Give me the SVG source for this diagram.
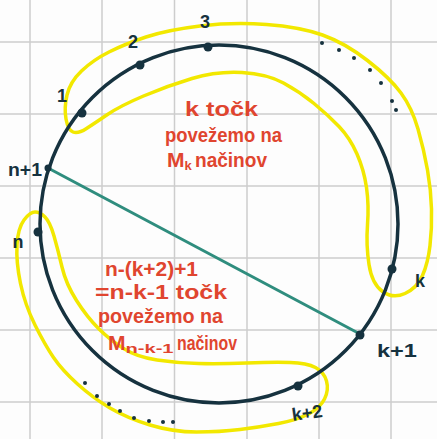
<svg xmlns="http://www.w3.org/2000/svg" width="437" height="439" viewBox="0 0 437 439">
<style>
.grid{stroke:#cdcdcd;stroke-width:1.5}
.circ{fill:none;stroke:#16323f;stroke-width:3.5}
.loop{fill:none;stroke:#f2e800;stroke-width:3.5;stroke-linejoin:round}
.chord{stroke:#2f8d7e;stroke-width:3;stroke-linecap:round}
.pt{fill:#16323f}
.lbl{font-family:"Liberation Sans",Arial,sans-serif;fill:#16323f;font-size:18px;font-weight:bold}
.red{font-family:"Liberation Sans",Arial,sans-serif;fill:#e0452f;font-size:21px;font-weight:bold}
.sub{font-size:13px}
</style>
<rect width="437" height="439" fill="#fdfdfd"/>
<g id="grid">
<line class="grid" x1="30" y1="0" x2="30" y2="439"/>
<line class="grid" x1="102" y1="0" x2="102" y2="439"/>
<line class="grid" x1="174.5" y1="0" x2="174.5" y2="439"/>
<line class="grid" x1="247" y1="0" x2="247" y2="439"/>
<line class="grid" x1="319" y1="0" x2="319" y2="439"/>
<line class="grid" x1="391" y1="0" x2="391" y2="439"/>
<line class="grid" x1="0" y1="42" x2="437" y2="42"/>
<line class="grid" x1="0" y1="114" x2="437" y2="114"/>
<line class="grid" x1="0" y1="186" x2="437" y2="186"/>
<line class="grid" x1="0" y1="258" x2="437" y2="258"/>
<line class="grid" x1="0" y1="330" x2="437" y2="330"/>
<line class="grid" x1="0" y1="402" x2="437" y2="402"/>
</g>
<g id="loops">
<path id="loop-top" class="loop" d="M66,119 Q64,108 67,95 Q70,82 81.5,71 Q93,60 109,52 Q125,44 146,37 Q167,30 200,26 Q233,22 266.5,24.5 Q300,27 322.5,35 Q345,43 367.5,60.5 Q390,78 401,93 Q412,108 418,129 Q424,150 427.5,170 Q431,190 431.5,209 Q432,228 430,245.5 Q428,263 422.5,275.5 Q417,288 405,293.5 Q393,299 382.5,291.5 Q372,284 369,264.5 Q366,245 367.5,225 Q369,205 366.5,187.5 Q364,170 357,154 Q350,138 339,126.5 Q328,115 314,103.5 Q300,92 283.5,83 Q267,74 242,72.5 Q217,71 192,78.5 Q167,86 143.5,96 Q120,106 107.5,114.5 Q95,123 86.5,128.5 Q78,134 73,132 Q68,130 66,119 Z"/>
<path id="loop-bottom" class="loop" d="M24,220 Q18,228 17,245 Q16,262 20.5,283.5 Q25,305 35,325 Q45,345 53.5,357.5 Q62,370 77.5,384 Q93,398 110,408 Q127,418 150,425 Q173,432 196.5,432 Q220,432 240,429.5 Q260,427 278.5,423.5 Q297,420 308.5,414 Q320,408 324.5,399 Q329,390 326.5,381 Q324,372 315.5,367.5 Q307,363 290,362.5 Q273,362 246.5,363 Q220,364 198.5,363.5 Q177,363 157,360 Q137,357 123.5,348.5 Q110,340 98.5,328.5 Q87,317 76.5,300.5 Q66,284 62,267 Q58,250 54,236 Q50,222 45,217 Q40,212 35,212 Q30,212 24,220 Z"/>
</g>
<g id="circle">
<circle class="circ" cx="219" cy="224" r="179"/>
</g>
<g id="connectors">
<line class="chord" x1="48" y1="168" x2="360" y2="334"/>
</g>
<g id="node-1"><circle class="pt" cx="82" cy="113" r="4.5"/><text class="lbl" x="62" y="102" text-anchor="middle" font-size="19">1</text></g>
<g id="node-2"><circle class="pt" cx="140" cy="65" r="4.5"/><text class="lbl" x="133" y="48" text-anchor="middle" font-size="20">2</text></g>
<g id="node-3"><circle class="pt" cx="208" cy="47" r="4.5"/><text class="lbl" x="205" y="28" text-anchor="middle" font-size="20">3</text></g>
<g id="node-k"><circle class="pt" cx="392" cy="269" r="4.5"/><text class="lbl" x="420" y="287" text-anchor="middle" font-size="21">k</text></g>
<g id="node-k1"><circle class="pt" cx="360" cy="335" r="4.5"/><text class="lbl" x="397" y="357" text-anchor="middle" font-size="21" textLength="40" lengthAdjust="spacingAndGlyphs">k+1</text></g>
<g id="node-k2"><circle class="pt" cx="298" cy="386" r="4.5"/><text class="lbl" x="307" y="419" text-anchor="middle" transform="rotate(-8 307 412)">k+2</text></g>
<g id="node-n"><circle class="pt" cx="38" cy="232" r="4.5"/><text class="lbl" x="18" y="248" text-anchor="middle" font-size="21">n</text></g>
<g id="node-n1"><circle class="pt" cx="48" cy="168" r="3.5"/><text class="lbl" x="25" y="176" text-anchor="middle" font-size="15" textLength="34" lengthAdjust="spacingAndGlyphs">n+1</text></g>
<g id="dots" class="pt">
<circle cx="322" cy="43" r="2"/><circle cx="339" cy="50" r="2"/><circle cx="354" cy="58" r="2"/><circle cx="370" cy="70" r="2"/><circle cx="381" cy="83" r="2"/><circle cx="392" cy="101" r="2"/><circle cx="396" cy="110" r="2"/>
<circle cx="85" cy="383" r="2"/><circle cx="97" cy="396" r="2"/><circle cx="109" cy="404" r="2"/><circle cx="120" cy="411" r="2"/><circle cx="134" cy="418" r="2"/><circle cx="149" cy="421" r="2"/><circle cx="163" cy="422" r="2"/><circle cx="173" cy="422" r="2"/>
</g>
<g id="text-top">
<text class="red" x="185" y="116" textLength="73" lengthAdjust="spacingAndGlyphs">k točk</text>
<text class="red" x="165" y="142" textLength="117" lengthAdjust="spacingAndGlyphs">povežemo na</text>
<text class="red" x="167" y="167">M<tspan class="sub" dy="3">k</tspan></text>
<text class="red" x="195" y="167" textLength="72" lengthAdjust="spacingAndGlyphs">načinov</text>
</g>
<g id="text-bottom">
<text class="red" x="105" y="276" textLength="93" lengthAdjust="spacingAndGlyphs">n-(k+2)+1</text>
<text class="red" x="95" y="299" textLength="132" lengthAdjust="spacingAndGlyphs">=n-k-1 točk</text>
<text class="red" x="98" y="323" textLength="125" lengthAdjust="spacingAndGlyphs">povežemo na</text>
<text class="red" x="108" y="350">M<tspan class="sub" dy="3" textLength="48" lengthAdjust="spacingAndGlyphs">n-k-1</tspan></text>
<text class="red" x="177" y="350" textLength="60" lengthAdjust="spacingAndGlyphs">načinov</text>
</g>
</svg>
